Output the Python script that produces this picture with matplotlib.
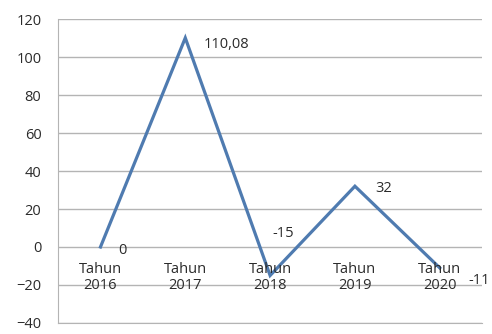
import matplotlib.pyplot as plt

plt.rcParams['font.family'] = ['Open Sans', 'DejaVu Sans']

years = ['2016', '2017', '2018', '2019', '2020']
values = [0, 110.08, -15, 32, -11]
labels = ['0', '110,08', '-15', '32', '-11']

fig = plt.figure(figsize=(4.92, 3.34), dpi=100)
ax = fig.add_axes([0.118, 0.033, 0.862, 0.91])

x = [i + 0.5 for i in range(len(years))]
ax.plot(x, values, color='#4f7bb0', lw=2.3, solid_joinstyle='miter', zorder=3)

ax.set_xlim(0, 5)
ax.set_ylim(-40, 120)
ax.set_yticks(range(-40, 121, 20))
ax.set_xticks([])
ax.yaxis.grid(True, color='#b4b4b4', lw=1)
ax.set_axisbelow(True)
for s in ['top', 'right']:
    ax.spines[s].set_visible(False)
ax.spines['left'].set_color('#b4b4b4')
ax.spines['bottom'].set_color('#b4b4b4')
ax.tick_params(axis='y', length=0, pad=12, labelsize=10.5, colors='#2b2b2b')

# category labels sit under the zero line
for xi, yr in zip(x, years):
    ax.annotate('Tahun\n' + yr, (xi, 0), xytext=(0, -15), textcoords='offset pixels',
                ha='center', va='top', fontsize=10.5, color='#2b2b2b', linespacing=1.1)

# data labels
offsets = [(22, -4), (18, -7), (13, 42), (29, -2), (29, -13)]
for xi, v, lab, (dx, dy) in zip(x, values, labels, offsets):
    ax.annotate(lab, (xi, v), xytext=(dx, dy), textcoords='offset pixels',
                ha='left' if lab in ('110,08', '-11') else 'center', va='center',
                fontsize=10.5, color='#2b2b2b', annotation_clip=False)

fig.savefig('out.png', dpi=100)
